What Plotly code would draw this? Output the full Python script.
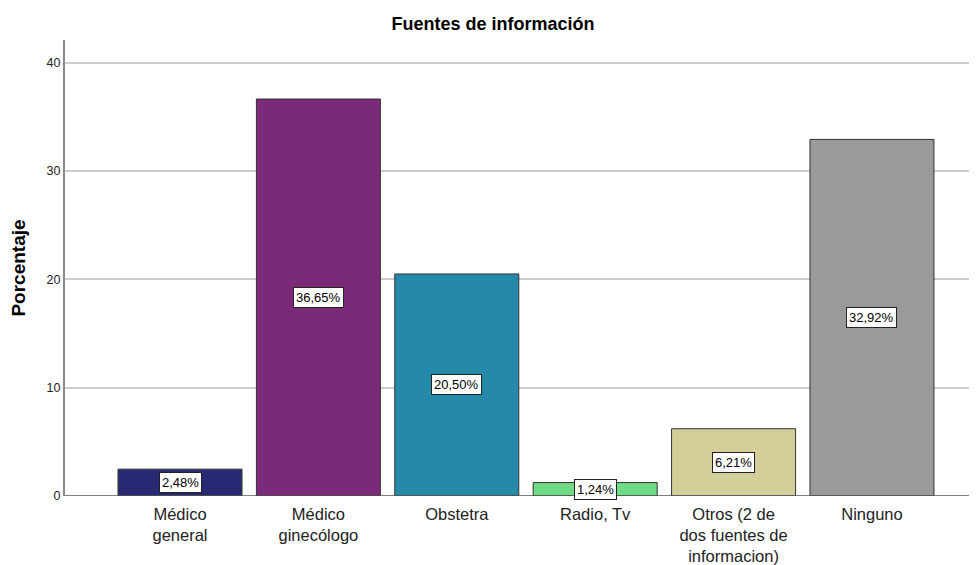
import plotly.graph_objects as go

categories = ["Médico<br>general", "Médico<br>ginecólogo", "Obstetra", "Radio, Tv",
              "Otros (2 de<br>dos fuentes de<br>informacion)", "Ninguno"]
values = [2.48, 36.65, 20.50, 1.24, 6.21, 32.92]
labels = ["2,48%", "36,65%", "20,50%", "1,24%", "6,21%", "32,92%"]
colors = ["#272A73", "#7B2A7A", "#2589AA", "#6FDB85", "#D4CF98", "#9A9A9A"]
y_ticks = [0, 10, 20, 30, 40]

xs = list(range(len(categories)))

fig = go.Figure()
fig.add_trace(go.Bar(
    x=xs, y=values, width=0.896,
    marker=dict(color=colors, line=dict(color="#333333", width=1)),
    hoverinfo="skip",
))

for xi, v, lab in zip(xs, values, labels):
    fig.add_annotation(
        x=xi, y=v / 2, text=lab, showarrow=False,
        font=dict(family="Liberation Sans, Arial", size=13, color="#000000"),
        bgcolor="#FFFFFF", bordercolor="#222222", borderwidth=1, borderpad=2,
    )

fig.update_layout(
    width=969, height=557,
    margin=dict(l=57, r=0, t=32, b=69),
    plot_bgcolor="#FFFFFF", paper_bgcolor="#FFFFFF",
    showlegend=False,
    title=dict(text="<b>Fuentes de información</b>", x=0.5005, xanchor="center",
               y=0.972, yanchor="middle",
               font=dict(family="Liberation Sans, Arial", size=18, color="#000000")),
    font=dict(family="Liberation Sans, Arial", color="#222222"),
)

fig.update_xaxes(
    range=[-0.831, 5.759], tickmode="array", tickvals=xs, ticktext=categories,
    showgrid=False, zeroline=False, showline=False, ticks="",
    automargin=False, ticklabelstandoff=6,
    tickfont=dict(size=16.5, color="#222222"),
)
fig.update_yaxes(
    range=[0, 42.1], tickmode="array", tickvals=y_ticks,
    showgrid=True, gridcolor="#CCCCCC", gridwidth=1.5,
    zeroline=False, showline=True, linecolor="#888888", linewidth=2,
    ticks="", ticklen=0, tickfont=dict(size=12.5, color="#222222"),
    automargin=False,
    title=dict(text="<b>Porcentaje</b>", font=dict(size=19, color="#000000"), standoff=16),
)
fig.add_shape(type="line", xref="paper", yref="y", x0=0, x1=1, y0=0, y1=0,
              line=dict(color="#555555", width=1.5))

fig.write_html("out.html")
